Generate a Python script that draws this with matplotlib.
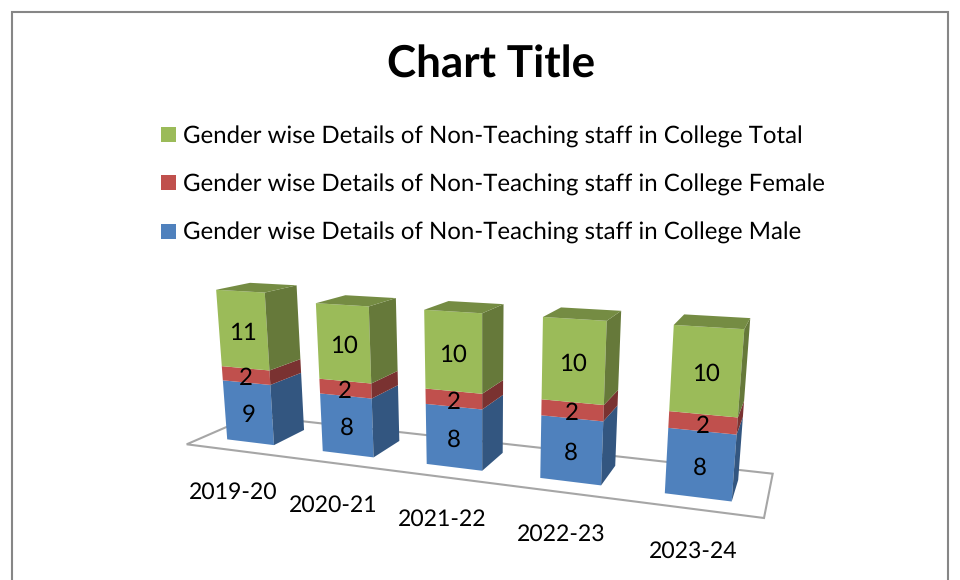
import numpy as np
import matplotlib
matplotlib.use("Agg")
import matplotlib.pyplot as plt
from matplotlib.patches import Polygon, Rectangle

categories = ["2019-20", "2020-21", "2021-22", "2022-23", "2023-24"]
male = [8.5, 8, 8, 8, 8]
female = [2, 2, 2, 2, 2]
total = [10.5, 10, 10, 10, 10]
series_names = ["Gender wise Details of Non-Teaching staff in College Male",
                "Gender wise Details of Non-Teaching staff in College Female",
                "Gender wise Details of Non-Teaching staff in College Total"]
front_cols = ["#4F81BD", "#C0504D", "#9BBB59"]
side_cols = ["#335680", "#7A3231", "#66793A"]
top_cols = ["#3F6797", "#9A403E", "#758C43"]

# camera: floor quad (front-left, front-right, back-right, back-left) in pixels
FLOOR = np.array([[186.7, 444.3], [764, 518], [772.7, 473.7], [252.5, 415.7]])
VANISH = (483.0, 3900.0)
PX_PER_UNIT = 7.25
GAP = 0.25
DEPTH = 0.25

n = len(categories)
src = np.array([[0, 0], [n, 0], [n, 1], [0, 1]], float)
A, b = [], []
for (X, Y), (u, v) in zip(src, FLOOR):
    A.append([X, Y, 1, 0, 0, 0, -u * X, -u * Y]); b.append(u)
    A.append([0, 0, 0, X, Y, 1, -v * X, -v * Y]); b.append(v)
h = np.linalg.solve(np.array(A), np.array(b))
H = np.append(h, 1).reshape(3, 3)
c = H @ np.array([n / 2, 0.5, 1])
k = -PX_PER_UNIT * c[2] / (VANISH[1] - c[1] / c[2])
P = np.column_stack([H[:, 0], H[:, 1], k * np.array([VANISH[0], VANISH[1], 1]), H[:, 2]])


def proj(X, Y, Z):
    p = P @ np.array([X, Y, Z, 1.0])
    return p[0] / p[2], p[1] / p[2]


plt.rcParams["font.family"] = ["Lato", "DejaVu Sans"]
plt.rcParams["text.hinting"] = "no_hinting"
plt.rcParams["text.hinting_factor"] = 1

fig = plt.figure(figsize=(9.6, 5.8), dpi=100)
ax = fig.add_axes([0, 0, 1, 1])
ax.set_xlim(0, 960)
ax.set_ylim(580, 0)
ax.axis("off")

ax.add_patch(Rectangle((12, 12), 936, 600, fc="white", ec="#868686", lw=1.5))
ax.add_patch(Polygon([proj(x, y, 0) for x, y in src], closed=True, fc="white", ec="#A6A6A6", lw=1.5))

ax.text(491, 65, "Chart Title", ha="center", va="center", fontsize=31.7, fontweight="bold", color="black")
for name, col, y in zip(series_names[::-1], front_cols[::-1], [134.5, 182.5, 231]):
    ax.add_patch(Rectangle((161, y - 7.5), 15, 15, fc=col, ec="none"))
    ax.text(183, y + 2, name, ha="left", va="center", fontsize=17.5, color="black")

stack = np.array([male, female, total], float)
for i in range(n):
    x0, x1 = i + GAP, i + 1 - GAP
    y0, y1 = DEPTH, 1 - DEPTH
    base = 0.0
    for s in range(3):
        top = base + stack[s, i]
        ax.add_patch(Polygon([proj(x0, y0, base), proj(x1, y0, base), proj(x1, y0, top), proj(x0, y0, top)],
                             closed=True, fc=front_cols[s], ec="none"))
        ax.add_patch(Polygon([proj(x1, y0, base), proj(x1, y1, base), proj(x1, y1, top), proj(x1, y0, top)],
                             closed=True, fc=side_cols[s], ec="none"))
        if s == 2:
            ax.add_patch(Polygon([proj(x0, y0, top), proj(x1, y0, top), proj(x1, y1, top), proj(x0, y1, top)],
                                 closed=True, fc=top_cols[s], ec="none"))
        tx, ty = proj((x0 + x1) / 2, y0, (base + top) / 2)
        ax.text(tx, ty + 3, str(int(np.floor(stack[s, i] + 0.5))), ha="center", va="center", fontsize=17.6, color="black", zorder=5)
        base = top
    lx, ly = proj(i + 0.5, 0, 0)
    ax.text(lx, ly + 42.5, categories[i], ha="center", va="center", fontsize=16.8, color="black")

fig.savefig("out.png", dpi=100)
